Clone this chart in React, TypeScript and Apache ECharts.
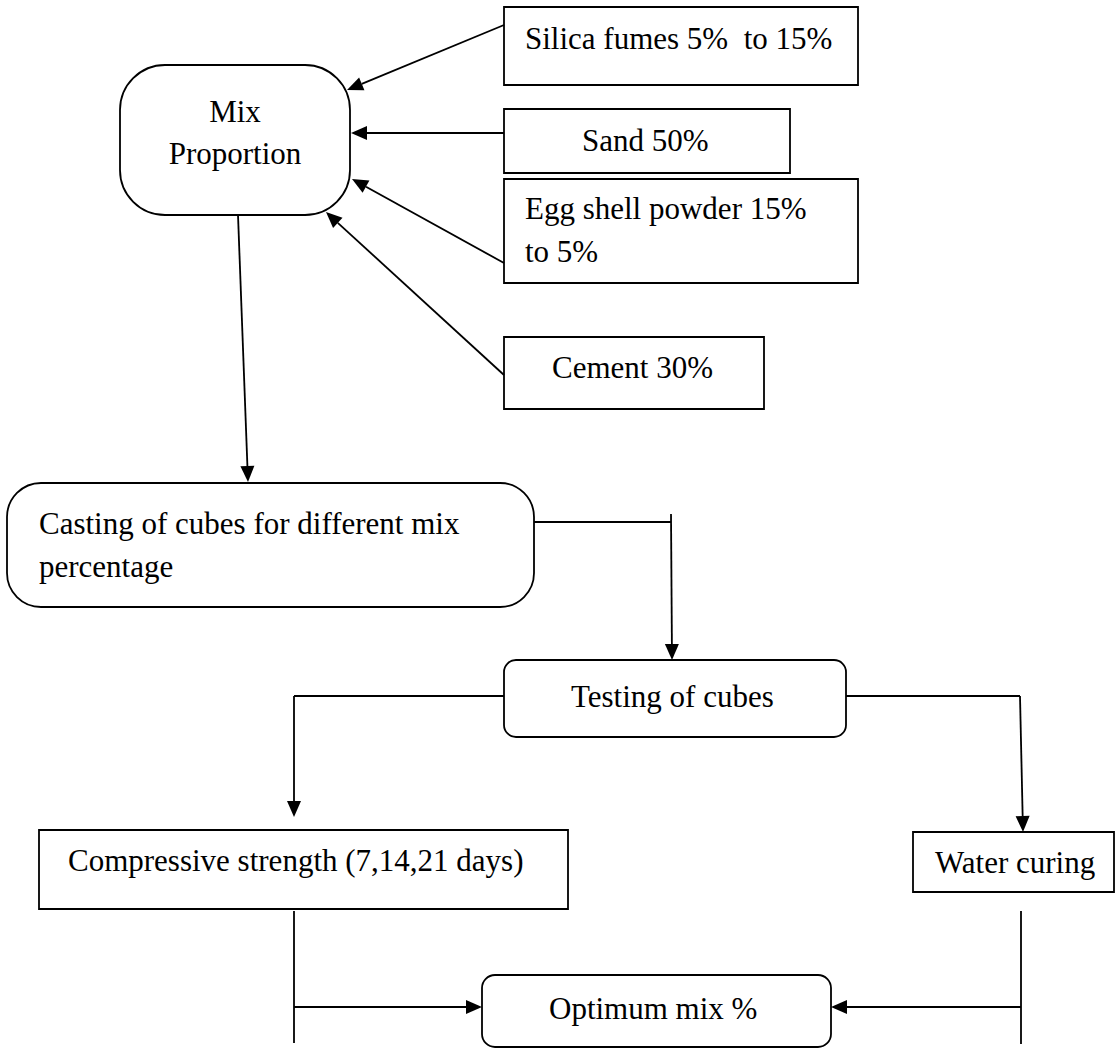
import React, { useEffect, useRef } from "react";
import * as echarts from "echarts";

// Node labels (text lines per node)
const inputLabels: string[][] = [
  ["Silica fumes 5%  to 15%"],
  ["Sand 50%"],
  ["Egg shell powder 15%", "to 5%"],
  ["Cement 30%"],
];
const mixLabel: string[] = ["Mix", "Proportion"];
const castingLabel: string[] = ["Casting of cubes for different mix", "percentage"];
const testingLabel: string[] = ["Testing of cubes"];
const compressiveLabel: string[] = ["Compressive strength (7,14,21 days)"];
const waterLabel: string[] = ["Water curing"];
const optimumLabel: string[] = ["Optimum mix %"];

const FONT = '"Liberation Serif", "Times New Roman", serif';
const FS = 31;
const LW = 1.8;

type Box = { x: number; y: number; w: number; h: number; r: number };

function box(b: Box): any {
  return {
    type: "rect",
    shape: { x: b.x, y: b.y, width: b.w, height: b.h, r: b.r },
    style: { fill: "#fff", stroke: "#000", lineWidth: LW },
    z: 1,
  };
}

function text(s: string, x: number, y: number, align: string = "left"): any {
  return {
    type: "text",
    x,
    y,
    z: 3,
    style: {
      text: s,
      fill: "#000",
      font: `${FS}px ${FONT}`,
      textAlign: align,
      textVerticalAlign: "middle",
    },
  };
}

function seg(x1: number, y1: number, x2: number, y2: number): any {
  return {
    type: "line",
    shape: { x1, y1, x2, y2 },
    style: { stroke: "#000", lineWidth: LW },
    z: 2,
  };
}

function arrow(x1: number, y1: number, x2: number, y2: number): any[] {
  const dx = x2 - x1;
  const dy = y2 - y1;
  const len = Math.sqrt(dx * dx + dy * dy);
  const ux = dx / len;
  const uy = dy / len;
  const L = 16;
  const W = 7;
  const bx = x2 - ux * L;
  const by = y2 - uy * L;
  return [
    seg(x1, y1, bx, by),
    {
      type: "polygon",
      shape: {
        points: [
          [x2, y2],
          [bx - uy * W, by + ux * W],
          [bx + uy * W, by - ux * W],
        ],
      },
      style: { fill: "#000" },
      z: 2,
    },
  ];
}

export default function App() {
  const ref = useRef<HTMLDivElement>(null);
  useEffect(() => {
    document.body.style.margin = "0";
    const chart = echarts.init(ref.current!, null, { renderer: "svg" });

    const inputBoxes: Box[] = [
      { x: 504, y: 7, w: 354, h: 78, r: 0 },
      { x: 504, y: 109, w: 286, h: 64, r: 0 },
      { x: 504, y: 179, w: 354, h: 104, r: 0 },
      { x: 504, y: 337, w: 260, h: 72, r: 0 },
    ];
    const inputTextPos = [
      [[525, 38]],
      [[582, 140]],
      [[525, 208], [525, 251]],
      [[552, 367]],
    ];

    const elements: any[] = [];

    // boxes
    inputBoxes.forEach((b) => elements.push(box(b)));
    elements.push(box({ x: 120, y: 65, w: 230, h: 150, r: 45 }));
    elements.push(box({ x: 7, y: 483, w: 527, h: 124, r: 34 }));
    elements.push(box({ x: 504, y: 660, w: 342, h: 77, r: 12 }));
    elements.push(box({ x: 39, y: 830, w: 529, h: 79, r: 0 }));
    elements.push(box({ x: 913, y: 832, w: 201, h: 60, r: 0 }));
    elements.push(box({ x: 482, y: 975, w: 349, h: 72, r: 13 }));

    // texts
    inputLabels.forEach((lines, i) =>
      lines.forEach((s, j) => elements.push(text(s, inputTextPos[i][j][0], inputTextPos[i][j][1])))
    );
    elements.push(text(mixLabel[0], 235, 111, "center"));
    elements.push(text(mixLabel[1], 235, 153, "center"));
    elements.push(text(castingLabel[0], 39, 523));
    elements.push(text(castingLabel[1], 39, 566));
    elements.push(text(testingLabel[0], 571, 696));
    elements.push(text(compressiveLabel[0], 68, 860));
    elements.push(text(waterLabel[0], 935, 862));
    elements.push(text(optimumLabel[0], 549, 1008));

    // connectors
    elements.push(...arrow(504, 25, 347, 90));
    elements.push(...arrow(504, 133, 351, 133));
    elements.push(...arrow(504, 263, 352, 179));
    elements.push(...arrow(504, 375, 326, 212));
    elements.push(...arrow(238, 215, 248, 482));

    elements.push(seg(534, 522, 671, 522));
    elements.push(...arrow(671, 514, 672, 660));

    elements.push(seg(504, 696, 294, 696));
    elements.push(...arrow(294, 696, 294, 817));

    elements.push(seg(846, 696, 1020, 696));
    elements.push(...arrow(1020, 696, 1023, 832));

    elements.push(seg(294, 911, 294, 1043));
    elements.push(...arrow(294, 1007, 482, 1007));

    elements.push(seg(1021, 911, 1021, 1044));
    elements.push(...arrow(1021, 1007, 831, 1007));

    chart.setOption({
      animation: false,
      backgroundColor: "#fff",
      graphic: { elements },
    });
    return () => chart.dispose();
  }, []);
  return (
    <div
      ref={ref}
      style={{ position: "absolute", left: 0, top: 0, width: 1116, height: 1048 }}
    />
  );
}
